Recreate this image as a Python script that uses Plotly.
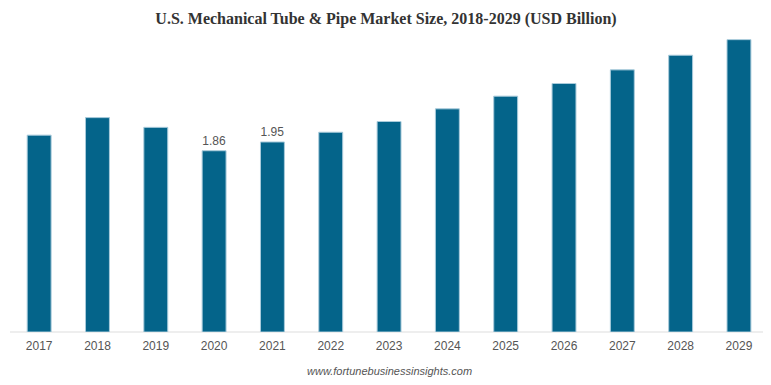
import plotly.graph_objects as go

years = ["2017", "2018", "2019", "2020", "2021", "2022", "2023",
         "2024", "2025", "2026", "2027", "2028", "2029"]
values = [2.02, 2.20, 2.10, 1.86, 1.95, 2.05, 2.16, 2.29, 2.42, 2.55, 2.69, 2.84, 3.00]
labels = ["", "", "", "1.86", "1.95", "", "", "", "", "", "", "", ""]

fig = go.Figure(go.Bar(
    x=years, y=values, text=labels, textposition="outside",
    textfont=dict(family="Liberation Sans, Arial", size=12, color="#555555"),
    marker=dict(color="#04648a", line=dict(color="#a9cbdb", width=1)),
    width=0.41, cliponaxis=False, hoverinfo="x+y",
))

W = 763
plot_w = 745.2

fig.update_layout(
    width=W, height=369,
    margin=dict(l=1.8, r=W - 1.8 - plot_w, t=22, b=44.5),
    paper_bgcolor="white", plot_bgcolor="white",
    showlegend=False,
    title=dict(text="<b>U.S. Mechanical Tube & Pipe Market Size, 2018-2029 (USD Billion)</b>",
               x=(386 - 8) / W, xanchor="center", y=0.973, yanchor="middle",
               font=dict(family="Liberation Serif, Times New Roman", size=16, color="#333333")),
    xaxis=dict(showline=False, ticks="",
               range=[-0.5, 12.275], ticklabelstandoff=5,
               tickfont=dict(family="Liberation Sans, Arial", size=12, color="#555555"),
               showgrid=False),
    yaxis=dict(range=[0, 3.099], visible=False, showgrid=False),
    shapes=[dict(type="line", xref="paper", yref="paper", x0=0, x1=(762 - 1.8) / plot_w,
                 y0=0, y1=0, line=dict(color="#dddddd", width=1), layer="below")],
    annotations=[dict(text="<i>www.fortunebusinessinsights.com</i>", x=(389 - 8 - 1.8) / plot_w, y=-0.1306,
                      xref="paper", yref="paper", xanchor="center", yanchor="middle",
                      showarrow=False,
                      font=dict(family="Liberation Sans, Arial", size=11, color="#555555"))],
)

fig.write_html("out.html")
